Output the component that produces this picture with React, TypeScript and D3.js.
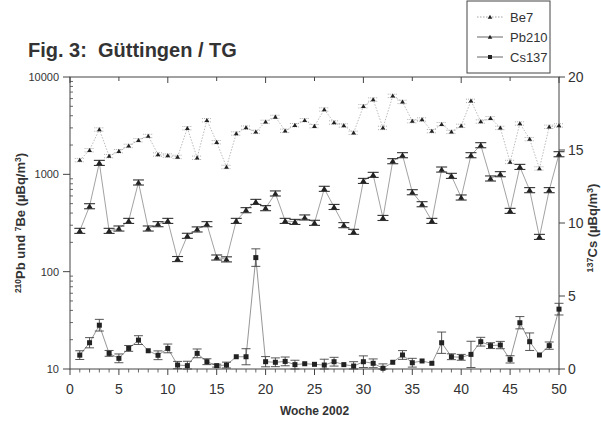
import React from "react";
import * as d3 from "d3";

const weeks = [1,2,3,4,5,6,7,8,9,10,11,12,13,14,15,16,17,18,19,20,21,22,23,24,25,26,27,28,29,30,31,32,33,34,35,36,37,38,39,40,41,42,43,44,45,46,47,48,49,50];
const be7 = [1400,1770,2890,1540,1730,1960,2240,2480,1600,1560,1510,2980,1480,3600,2140,1190,2630,3020,2730,3460,3890,2800,3200,3600,3125,4640,3410,3180,2670,5010,5870,3000,6400,5550,3520,3660,2780,3275,2730,3150,5690,3490,3775,3000,1340,3330,2300,1150,3080,3180];
const pb210 = [263,471,1313,263,278,333,826,278,308,333,135,234,272,308,140,134,333,429,522,450,637,333,325,361,318,711,463,301,257,857,989,357,1367,1575,656,494,333,1122,966,579,1575,1995,908,1005,422,1194,689,228,689,1612];
const cs137 = [0.95,1.8,3.0,1.07,0.73,1.41,1.98,1.25,0.94,1.41,0.27,0.23,1.07,0.5,0.23,0.27,0.84,0.84,7.63,0.5,0.46,0.52,0.3,0.36,0.32,0.27,0.5,0.3,0.2,0.5,0.39,0.05,0.46,0.96,0.43,0.55,0.39,1.8,0.84,0.8,1.0,1.87,1.6,1.64,0.66,3.17,1.87,0.96,1.6,4.1];
const csErr = [0.3,0.35,0.4,0.2,0.3,0.2,0.3,0,0.3,0.3,0.25,0.3,0.3,0.2,0.1,0.2,0,0.55,0.6,0.35,0.3,0.3,0.3,0,0,0.4,0.3,0,0.3,0.4,0.3,0.3,0,0.3,0.3,0,0,0.73,0.2,0.2,0.9,0.3,0.2,0.25,0.25,0.42,0.6,0,0.25,0.4];
const beRelErr = 0.04;
const pbRelErr = 0.06;

const xTicks = [0,5,10,15,20,25,30,35,40,45,50];
const leftTicks = [10,100,1000,10000];
const rightTicks = [0,5,10,15,20];
const legendItems = ["Be7","Pb210","Cs137"];

const W = 601, H = 423;
const L = 70, R = 559, T = 77, B = 369;
const FONT = "Liberation Sans, Arial, Helvetica, sans-serif";

export default function App() {
  const x = d3.scaleLinear().domain([0, 50]).range([L, R]);
  const yL = d3.scaleLog().domain([10, 10000]).range([B, T]);
  const yR = d3.scaleLinear().domain([0, 20]).range([B, T]);

  const lineBe = d3.line<number>().x((_, i) => x(weeks[i])).y(d => yL(d));
  const linePb = d3.line<number>().x((_, i) => x(weeks[i])).y(d => yL(d));
  const lineCs = d3.line<number>().x((_, i) => x(weeks[i])).y(d => yR(d));

  const minorLog: number[] = [];
  [10, 100, 1000].forEach(dec => { for (let k = 2; k <= 9; k++) minorLog.push(dec * k); });
  const minorX = d3.range(0, 51).filter(v => v % 5 !== 0);

  const tri = (cx: number, cy: number, s: number) =>
    `M${cx},${cy - s}L${cx + s * 1.05},${cy + s * 0.75}L${cx - s * 1.05},${cy + s * 0.75}Z`;

  const gray = "#8a8a8a";
  const dark = "#222";

  return (
    <svg width={W} height={H} style={{ position: "absolute", left: 0, top: 0, background: "#fff" }} fontFamily={FONT}>
      <rect x={0} y={0} width={W} height={H} fill="#fff" />
      {/* Title */}
      <text x={28} y={57} fontSize={20} fontWeight="bold" fill="#333">{"Fig. 3:\u00A0 Güttingen / TG"}</text>

      {/* Legend */}
      <rect x={467} y={1} width={83} height={72} fill="#fff" stroke="#444" strokeWidth={1} />
      {legendItems.map((name, i) => {
        const ly = 17 + i * 20;
        return (
          <g key={name}>
            <line x1={477} x2={503} y1={ly} y2={ly} stroke={i === 0 ? "#999" : "#555"} strokeWidth={0.9} strokeDasharray={i === 0 ? "1.5,1.5" : undefined} />
            {i < 2 ? <path d={tri(490, ly, 2.2)} fill={dark} /> : <rect x={488} y={ly - 2} width={4} height={4} fill={dark} />}
            <text x={510} y={ly + 4.5} fontSize={13} fill="#333">{name}</text>
          </g>
        );
      })}

      {/* Frame */}
      <rect x={L} y={T} width={R - L} height={B - T} fill="none" stroke="#444" strokeWidth={1} />

      {/* Bottom axis */}
      {xTicks.map(v => (
        <g key={"xt" + v}>
          <line x1={x(v)} x2={x(v)} y1={B} y2={B + 6} stroke="#444" />
          <text x={x(v)} y={B + 25} fontSize={14} textAnchor="middle" fill="#333">{v}</text>
        </g>
      ))}
      {minorX.map(v => (
        <line key={"xm" + v} x1={x(v)} x2={x(v)} y1={B} y2={B + 3.5} stroke="#444" strokeWidth={0.8} />
      ))}
      {/* Top axis */}
      {xTicks.map(v => (
        <line key={"tt" + v} x1={x(v)} x2={x(v)} y1={T} y2={T + (v % 10 === 0 ? 6 : 4)} stroke="#444" />
      ))}
      <text x={(L + R) / 2} y={415} fontSize={12} fontWeight="bold" textAnchor="middle" fill="#333">Woche 2002</text>

      {/* Left axis */}
      {leftTicks.map(v => (
        <g key={"yl" + v}>
          <line x1={L - 7} x2={L} y1={yL(v)} y2={yL(v)} stroke="#444" />
          <text x={L - 11} y={yL(v) + 4} fontSize={11} textAnchor="end" fill="#333">{v}</text>
        </g>
      ))}
      {minorLog.map(v => (
        <line key={"ylm" + v} x1={L} x2={L + 3} y1={yL(v)} y2={yL(v)} stroke="#444" strokeWidth={0.8} />
      ))}
      <text transform={`translate(25,${(T + B) / 2}) rotate(-90)`} fontSize={13} fontWeight="bold" textAnchor="middle" fill="#333">
        <tspan fontSize={8.5} dy={-4}>210</tspan><tspan dy={4}>Pb und </tspan><tspan fontSize={8.5} dy={-4}>7</tspan><tspan dy={4}>Be (µBq/m</tspan><tspan fontSize={8.5} dy={-4}>3</tspan><tspan dy={4}>)</tspan>
      </text>

      {/* Right axis */}
      {rightTicks.map(v => (
        <g key={"yr" + v}>
          <line x1={R} x2={R + 6} y1={yR(v)} y2={yR(v)} stroke="#444" />
          <text x={R + 9} y={yR(v) + 5} fontSize={14} fill="#333">{v}</text>
        </g>
      ))}
      <text transform={`translate(597,228) rotate(-90)`} fontSize={13} fontWeight="bold" textAnchor="middle" fill="#333">
        <tspan fontSize={9} dy={-4}>137</tspan><tspan dy={4}>Cs (µBq/m</tspan><tspan fontSize={9} dy={-4}>3</tspan><tspan dy={4}>)</tspan>
      </text>

      {/* Lines */}
      <path d={lineBe(be7) || ""} fill="none" stroke="#aaa" strokeWidth={0.8} strokeDasharray="1.5,1.5" />
      <path d={linePb(pb210) || ""} fill="none" stroke={gray} strokeWidth={0.8} />
      <path d={lineCs(cs137) || ""} fill="none" stroke={gray} strokeWidth={0.9} />

      {/* Be7 markers & errors */}
      {be7.map((v, i) => {
        const cx = x(weeks[i]);
        const y1 = yL(v * (1 + beRelErr)), y2 = yL(v * (1 - beRelErr));
        return (
          <g key={"be" + i}>
            <line x1={cx} x2={cx} y1={y1} y2={y2} stroke="#999" strokeWidth={0.8} strokeDasharray="1,1" />
            <line x1={cx - 5} x2={cx + 5} y1={y1} y2={y1} stroke="#999" strokeWidth={0.8} strokeDasharray="1,1" />
            <line x1={cx - 5} x2={cx + 5} y1={y2} y2={y2} stroke="#999" strokeWidth={0.8} strokeDasharray="1,1" />
            <path d={tri(cx, yL(v), 2.3)} fill={dark} />
          </g>
        );
      })}

      {/* Pb210 markers & errors */}
      {pb210.map((v, i) => {
        const cx = x(weeks[i]);
        const y1 = yL(v * (1 + pbRelErr)), y2 = yL(v * (1 - pbRelErr));
        return (
          <g key={"pb" + i}>
            <line x1={cx} x2={cx} y1={y1} y2={y2} stroke="#333" strokeWidth={1} />
            <line x1={cx - 5.5} x2={cx + 5.5} y1={y1} y2={y1} stroke="#333" strokeWidth={1.1} />
            <line x1={cx - 5.5} x2={cx + 5.5} y1={y2} y2={y2} stroke="#333" strokeWidth={1.1} />
            <path d={tri(cx, yL(v), 3)} fill={dark} />
          </g>
        );
      })}

      {/* Cs137 markers & errors */}
      {cs137.map((v, i) => {
        const cx = x(weeks[i]);
        const e = csErr[i];
        const y1 = yR(v + e), y2 = yR(Math.max(0, v - e));
        return (
          <g key={"cs" + i}>
            {e > 0 && (
              <g>
                <line x1={cx} x2={cx} y1={y1} y2={y2} stroke="#444" strokeWidth={0.9} />
                <line x1={cx - 4.5} x2={cx + 4.5} y1={y1} y2={y1} stroke="#444" strokeWidth={0.9} />
                <line x1={cx - 4.5} x2={cx + 4.5} y1={y2} y2={y2} stroke="#444" strokeWidth={0.9} />
              </g>
            )}
            <rect x={cx - 2.5} y={yR(v) - 2.5} width={5} height={5} fill={dark} />
          </g>
        );
      })}
    </svg>
  );
}
